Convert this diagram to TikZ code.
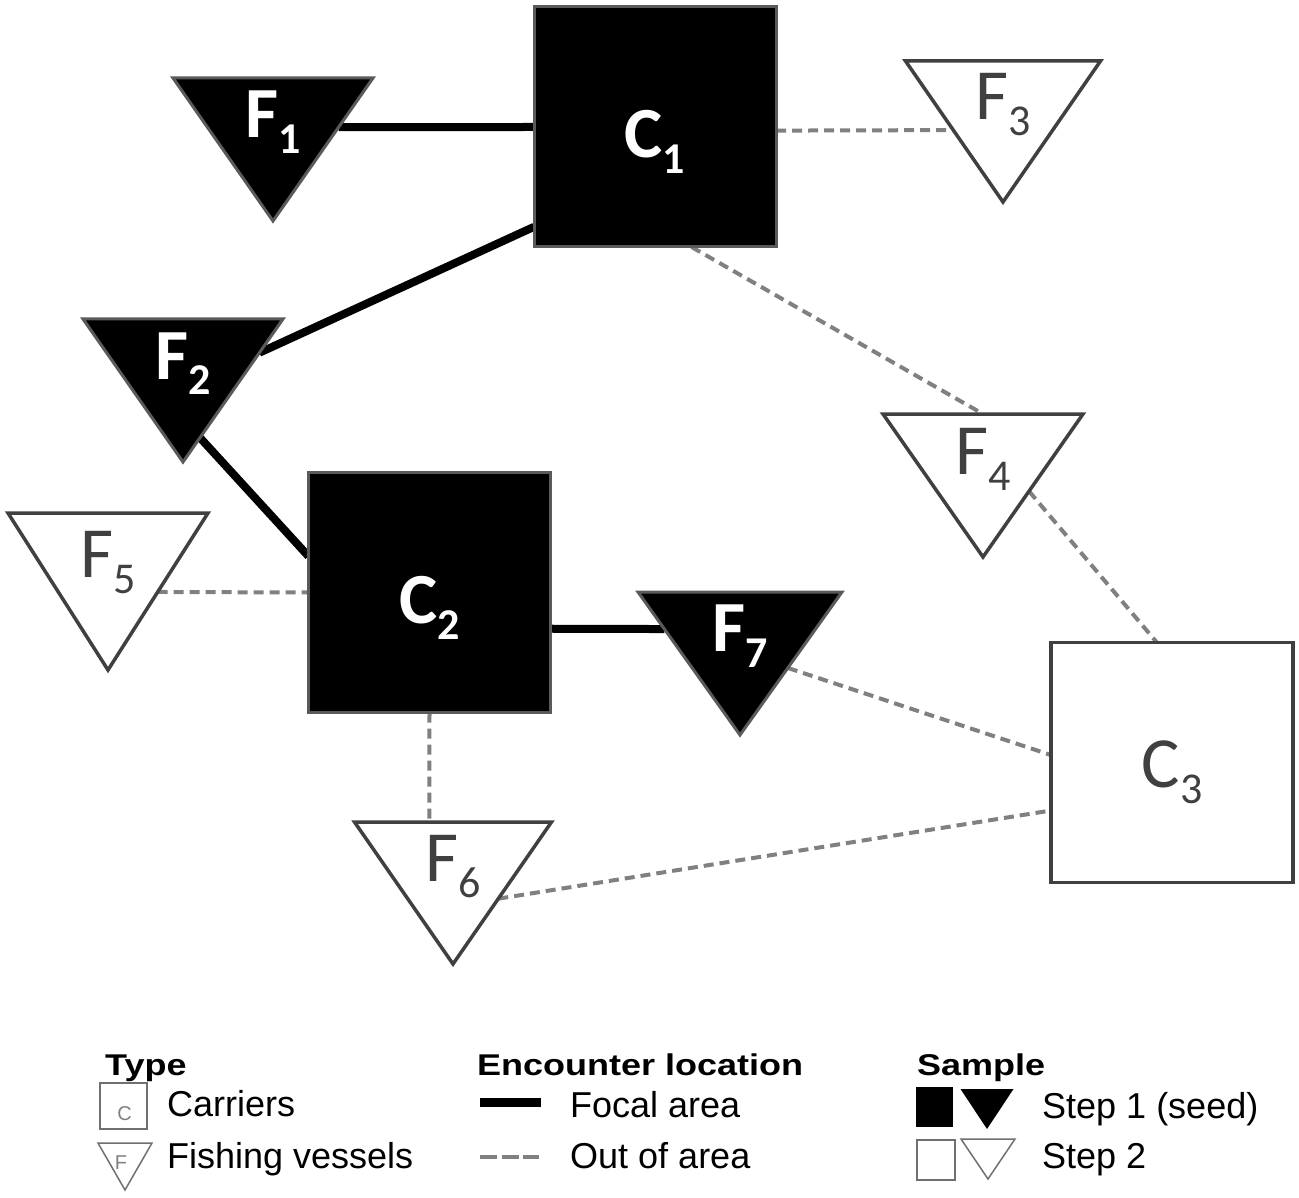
\documentclass[tikz,border=0pt]{standalone}
\usepackage{fontspec}
\setmainfont{Liberation Sans}
\newfontfamily\lblfont{Carlito}
\newfontfamily\hdrfont{Liberation Sans}[FakeStretch=1.2]
\usetikzlibrary{shapes.geometric,calc}
\definecolor{edgegrey}{HTML}{5A5A5A}
\definecolor{darkgrey}{HTML}{404040}
\definecolor{dashgrey}{HTML}{808080}
\definecolor{txtgrey}{HTML}{404040}
\definecolor{legline}{HTML}{707070}
\pgfdeclarelayer{bg}
\pgfsetlayers{bg,main}
\tikzset{
  carrier/.style={rectangle, minimum width=242pt, minimum height=240pt, inner sep=0pt, outer sep=0pt, line width=3pt},
  seedfill/.style={fill=black, draw=edgegrey, line width=3pt},
  stepfill/.style={fill=white, draw=darkgrey, line width=3.5pt},
  vessel/.style={isosceles triangle, isosceles triangle stretches, shape border rotate=270, minimum width=200pt, minimum height=143pt, inner sep=0pt, outer sep=0pt, anchor=apex},
  focal/.style={line width=8pt, black},
  outarea/.style={line width=4pt, dashgrey, dash pattern=on 10pt off 6pt},
  seedlabel/.style={font=\lblfont\bfseries\fontsize{72}{72}\selectfont, text=white, anchor=base, inner sep=0pt},
  steplabel/.style={font=\lblfont\fontsize{72}{72}\selectfont, text=txtgrey, anchor=base, inner sep=0pt},
  hdr/.style={font=\hdrfont\bfseries\fontsize{30}{30}\selectfont, anchor=base west, inner sep=0pt},
  legtext/.style={font=\fontsize{36}{36}\selectfont, anchor=base west, inner sep=0pt},
  legsmall/.style={font=\fontsize{20}{20}\selectfont, text=dashgrey, anchor=base, inner sep=0pt},
  legsq/.style={rectangle, inner sep=0pt, outer sep=0pt},
  legtri/.style={isosceles triangle, isosceles triangle stretches, shape border rotate=270, inner sep=0pt, outer sep=0pt, anchor=apex},
}
\newcommand{\lbl}[2]{#1\raisebox{-16pt}{\fontsize{44}{44}\selectfont #2}}
\begin{document}
\begin{tikzpicture}[x=1pt,y=-1pt]
\useasboundingbox (0,0) rectangle (1299,1198);
% carriers
\node[carrier, seedfill] (C1) at (655,127) {};
\node[carrier, seedfill] (C2) at (429.5,592.5) {};
\node[carrier, stepfill] (C3) at (1172,762.5) {};
% fishing vessels
\node[vessel, seedfill] (F1) at (273,221) {};
\node[vessel, seedfill] (F2) at (183,462) {};
\node[vessel, stepfill, minimum width=195pt, minimum height=141pt] (F3) at (1003,202) {};
\node[vessel, stepfill] (F4) at (983,557) {};
\node[vessel, stepfill, minimum height=157pt] (F5) at (108,670) {};
\node[vessel, stepfill, minimum width=197pt, minimum height=142pt] (F6) at (453,964) {};
\node[vessel, seedfill, minimum width=204pt] (F7) at (740,735) {};
% labels
\node[seedlabel] (C1t) at ($(C1.center)+(0,31)$) {\lbl{C}{1}};
\node[seedlabel] (C2t) at ($(C2.center)+(0,31)$) {\lbl{C}{2}};
\node[steplabel] (C3t) at ($(C3.center)+(0,25)$) {\lbl{C}{3}};
\node[seedlabel] (F1t) at ($(F1.lower side)+(0,60)$) {\lbl{F}{1}};
\node[seedlabel] (F2t) at ($(F2.lower side)+(0,60)$) {\lbl{F}{2}};
\node[steplabel] (F3t) at ($(F3.lower side)+(0,59)$) {\lbl{F}{3}};
\node[steplabel] (F4t) at ($(F4.lower side)+(0,60)$) {\lbl{F}{4}};
\node[steplabel] (F5t) at ($(F5.lower side)+(0,64)$) {\lbl{F}{5}};
\node[steplabel] (F6t) at ($(F6.lower side)+(0,59)$) {\lbl{F}{6}};
\node[seedlabel] (F7t) at ($(F7.lower side)+(0,59)$) {\lbl{F}{7}};
% connectors
\begin{pgfonlayer}{bg}
\draw[focal] ($(F1.apex)!0.657!(F1.left corner)$) -- (C1.west);
\draw[focal] ($(C1.north west)!0.916!(C1.south west)$) -- ($(F2.apex)!0.764!(F2.left corner)$);
\draw[focal] ($(F2.apex)!0.17!(F2.left corner)$) -- ($(C2.north west)!0.349!(C2.south west)$);
\draw[focal] ($(C2.north east)!0.651!(C2.south east)$) -- ($(F7.apex)!0.741!(F7.right corner)$);
\draw[outarea] ($(C1.north east)!0.515!(C1.south east)$) -- ($(F3.apex)!0.51!(F3.right corner)$);
\draw[outarea] ($(C1.south west)!0.651!(C1.south east)$) -- (F4.lower side);
\draw[outarea] ($(F4.apex)!0.46!(F4.left corner)$) -- ($(C3.north west)!0.4375!(C3.north east)$);
\draw[outarea] ($(F7.apex)!0.469!(F7.left corner)$) -- ($(C3.north west)!0.469!(C3.south west)$);
\draw[outarea] ($(F6.apex)!0.46!(F6.left corner)$) -- ($(C3.north west)!0.70!(C3.south west)$);
\draw[outarea] (C2.south) -- ($(F6.right corner)!0.38!(F6.left corner)$);
\draw[outarea] ($(F5.apex)!0.497!(F5.left corner)$) -- (C2.west);
\end{pgfonlayer}
% legend: type
\node[hdr] (lgType) at (105,1075) {Type};
\node[legsq, draw=legline, line width=1.5pt, minimum width=47pt, minimum height=46pt] (lgC) at (123.5,1106) {};
\node[legsmall] (lgCt) at ($(lgC.center)+(1,14)$) {C};
\node[legtext] (lgCarr) at (167,1116) {Carriers};
\node[legtri, draw=legline, line width=1.5pt, minimum width=54pt, minimum height=47pt] (lgF) at (125,1190) {};
\node[legsmall] (lgFt) at ($(lgF.lower side)+(-4,26)$) {F};
\node[legtext] (lgFish) at (167,1168) {Fishing vessels};
% legend: encounter location
\node[hdr] (lgEnc) at (477,1075) {Encounter location};
\coordinate (lgFa) at (480,1102);
\coordinate (lgFb) at (541,1102);
\draw[line width=9pt] (lgFa) -- (lgFb);
\node[legtext] (lgFocal) at (570,1117) {Focal area};
\coordinate (lgOa) at (480,1157);
\coordinate (lgOb) at (539,1157);
\draw[line width=4pt, dashgrey, dash pattern=on 17pt off 4.5pt] (lgOa) -- (lgOb);
\node[legtext] (lgOut) at (570,1168) {Out of area};
% legend: sample
\node[hdr] (lgSam) at (917,1075) {Sample};
\node[legsq, fill=black, minimum width=37pt, minimum height=40pt] (lgS1q) at (934.5,1107) {};
\node[legtri, fill=black, minimum width=53pt, minimum height=40pt] (lgS1t) at (987,1129) {};
\node[legtext] (lgStep1) at (1042,1118) {Step 1 (seed)};
\node[legsq, draw=legline, line width=1.5pt, minimum width=38pt, minimum height=40pt] (lgS2q) at (936,1160) {};
\node[legtri, draw=legline, line width=1.5pt, minimum width=54pt, minimum height=40pt] (lgS2t) at (988,1179) {};
\node[legtext] (lgStep2) at (1042,1168) {Step 2};
\end{tikzpicture}
\end{document}
